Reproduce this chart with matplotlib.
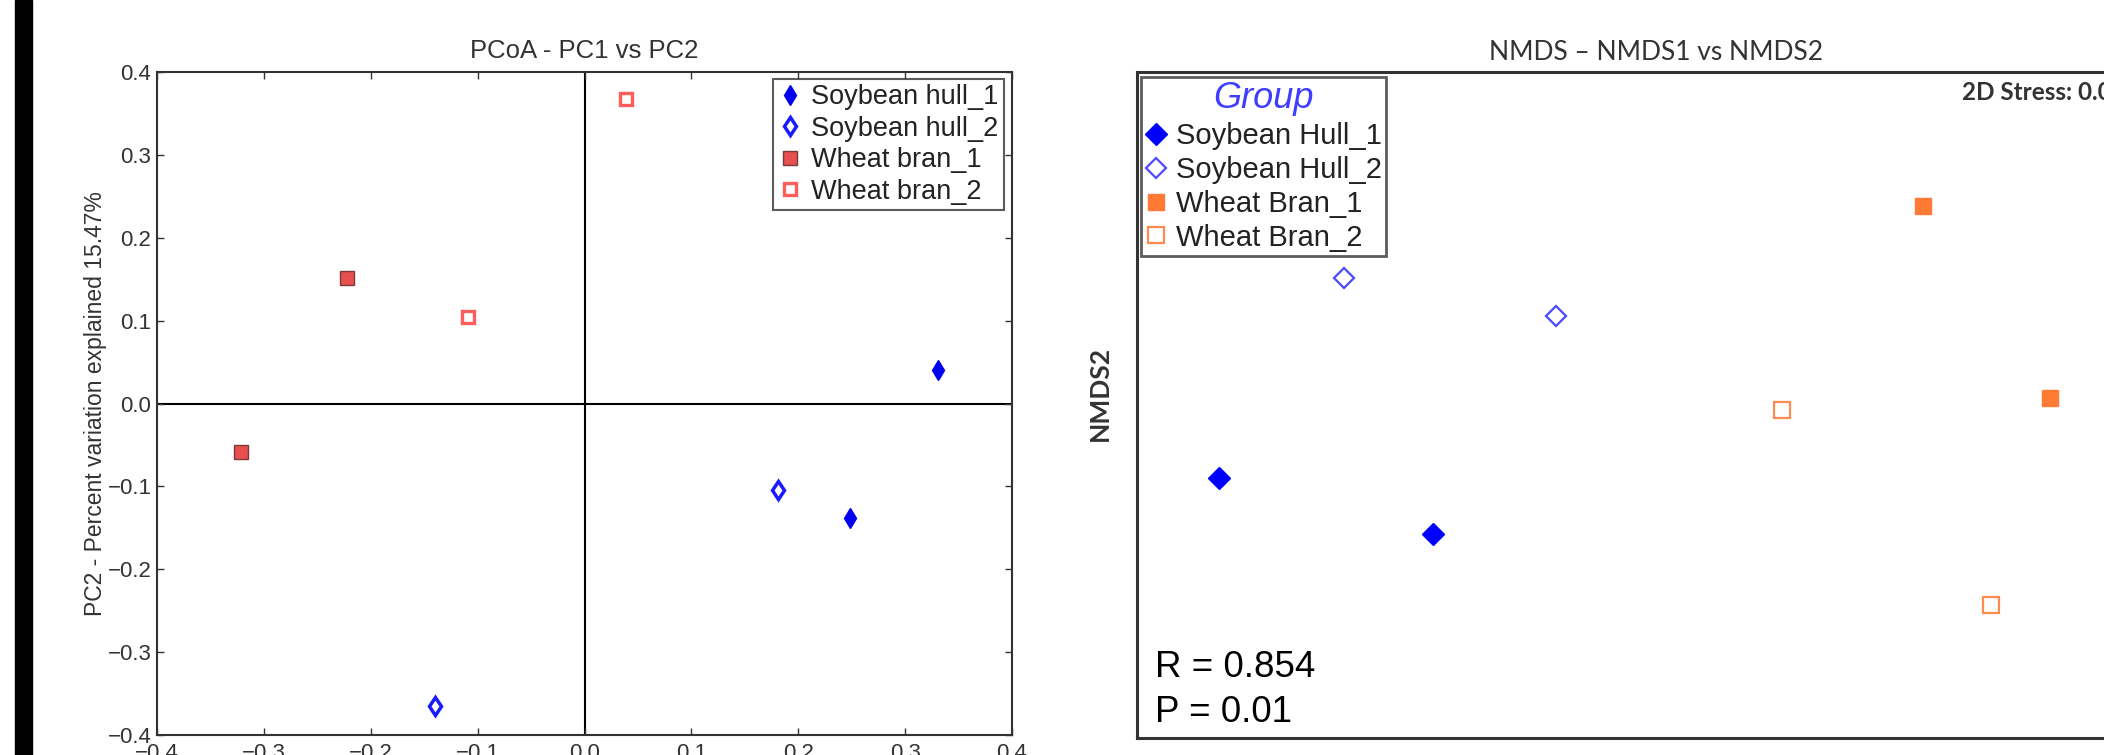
import matplotlib
matplotlib.use("Agg")
import matplotlib.pyplot as plt
from matplotlib.patches import Rectangle

plt.rcParams['font.family'] = ['Liberation Sans', 'DejaVu Sans']

# PCoA - PC1 vs PC2
pcoa_groups = ["Soybean hull_1", "Soybean hull_2", "Wheat bran_1", "Wheat bran_2"]
pcoa_pc1 = [[0.331, 0.248], [0.181, -0.140], [-0.222, -0.321], [-0.109, 0.039]]
pcoa_pc2 = [[0.041, -0.138], [-0.104, -0.365], [0.152, -0.058], [0.104, 0.367]]
pcoa_ticks = [-0.4, -0.3, -0.2, -0.1, 0.0, 0.1, 0.2, 0.3, 0.4]
pcoa_ylabel = "PC2 - Percent variation explained 15.47%"

# NMDS - NMDS1 vs NMDS2 (no axis scale shown, arbitrary units)
nmds_groups = ["Soybean Hull_1", "Soybean Hull_2", "Wheat Bran_1", "Wheat Bran_2"]
nmds1 = [[-0.418, -0.204], [-0.293, -0.081], [0.286, 0.413], [0.145, 0.354]]
nmds2 = [[-0.073, -0.129], [0.127, 0.089], [0.199, 0.007], [-0.005, -0.200]]
nmds_r = 0.854
nmds_p = 0.01

# marker styles
pcoa_styles = [
    dict(marker='d', ms=10, mfc='#0000ee', mec='#0000ee', mew=1),
    dict(marker='d', ms=9.5, mfc='white', mec='#1a1aff', mew=2.5),
    dict(marker='s', ms=10, mfc='#e85050', mec='#7a3a3a', mew=1),
    dict(marker='s', ms=9, mfc='white', mec='#ff5c5c', mew=2.4),
]
nmds_styles = [
    dict(marker='D', ms=11, mfc='#0000ff', mec='#0000ff', mew=1),
    dict(marker='D', ms=10, mfc='white', mec='#4a4aff', mew=1.6),
    dict(marker='s', ms=12, mfc='#ff7a35', mec='#ff7a35', mew=1),
    dict(marker='s', ms=11, mfc='white', mec='#ff8a50', mew=1.6),
]

W, H = 2104, 755
fig = plt.figure(figsize=(W / 100, H / 100), dpi=100)
fig.patch.set_facecolor('white')

# black bar at the left of the slide
fig.patches.append(Rectangle((15 / W, 0), 17 / W, 1, transform=fig.transFigure,
                             color='black', zorder=0))

# ---------- PCoA ----------
ax = fig.add_axes([157 / W, 20 / H, 855 / W, 663 / H])
for x, y, lab, st in zip(pcoa_pc1, pcoa_pc2, pcoa_groups, pcoa_styles):
    ax.plot(x, y, ls='none', label=lab, zorder=3, **st)
ax.axhline(0, color='black', lw=1.5, zorder=1)
ax.axvline(0, color='black', lw=1.5, zorder=1)
ax.set_xlim(-0.4, 0.4)
ax.set_ylim(-0.4, 0.4)
ax.set_xticks(pcoa_ticks)
ax.set_yticks(pcoa_ticks)
ax.tick_params(direction='in', top=True, right=True, length=5, width=1,
               color='#333333', labelcolor='#333333', labelsize=16)
ax.tick_params(axis='x', pad=6)
ax.tick_params(axis='y', pad=4)
for sp in ax.spines.values():
    sp.set_color('#333333')
    sp.set_linewidth(1.5)
ax.set_title("PCoA - PC1 vs PC2", fontsize=18.5, color='#333333', pad=10)
ax.set_ylabel(pcoa_ylabel, fontsize=16.5, color='#333333')
ax.yaxis.set_label_coords(-0.058, 0.5)
leg = ax.legend(loc='upper right', bbox_to_anchor=(0.9906, 0.9894), borderaxespad=0,
                fontsize=19.5, frameon=True, fancybox=False, handlelength=0.8,
                handletextpad=0.4, labelspacing=0.2, borderpad=0.2, numpoints=1)
leg.get_frame().set_edgecolor('#333333')
leg.get_frame().set_linewidth(1.5)
for t in leg.get_texts():
    t.set_color('#222222')

# ---------- NMDS ----------
ax2 = fig.add_axes([1137 / W, 17 / H, 1163 / W, 666 / H])
for x, y, lab, st in zip(nmds1, nmds2, nmds_groups, nmds_styles):
    ax2.plot(x, y, ls='none', label=lab, zorder=3, **st)
ax2.set_xlim(-0.5, 0.663)
ax2.set_ylim(-0.333, 0.333)
ax2.set_xticks([])
ax2.set_yticks([])
for sp in ax2.spines.values():
    sp.set_color('#333333')
    sp.set_linewidth(2.2)
fig.text(1656 / W, 1 - 53 / H, "NMDS – NMDS1 vs NMDS2", family=['Lato', 'DejaVu Sans'],
         fontsize=19, color='#333333', ha='center', va='center')
fig.text(1100 / W, 1 - 393 / H, "NMDS2", family=['Lato', 'DejaVu Sans'], fontsize=19,
         fontweight='bold', color='#333333', rotation=90, ha='center', va='center')
fig.text(1962 / W, 1 - 92 / H, "2D Stress: 0.0", family=['Lato', 'DejaVu Sans'],
         fontsize=17.5, fontweight='bold', color='#333333', ha='left', va='center')
ax2.text(0.0155, 0.0916, f"R = {nmds_r}", transform=ax2.transAxes, fontsize=26.5,
         color='black', ha='left', va='baseline')
ax2.text(0.0155, 0.024, f"P = {nmds_p}", transform=ax2.transAxes, fontsize=26.5,
         color='black', ha='left', va='baseline')
leg2 = ax2.legend(loc='upper left', bbox_to_anchor=(0.0034, 0.9925), borderaxespad=0,
                  title="Group", fontsize=21, frameon=True, fancybox=False,
                  handlelength=0.7, handletextpad=0.35, labelspacing=0.2,
                  borderpad=0.15, numpoints=1)
leg2.get_title().set_color('#3d3dff')
leg2.get_title().set_fontstyle('italic')
leg2.get_title().set_fontsize(26)
leg2.get_frame().set_edgecolor('#333333')
leg2.get_frame().set_linewidth(2)
for t in leg2.get_texts():
    t.set_color('#222222')

fig.savefig("out.png", dpi=100)
